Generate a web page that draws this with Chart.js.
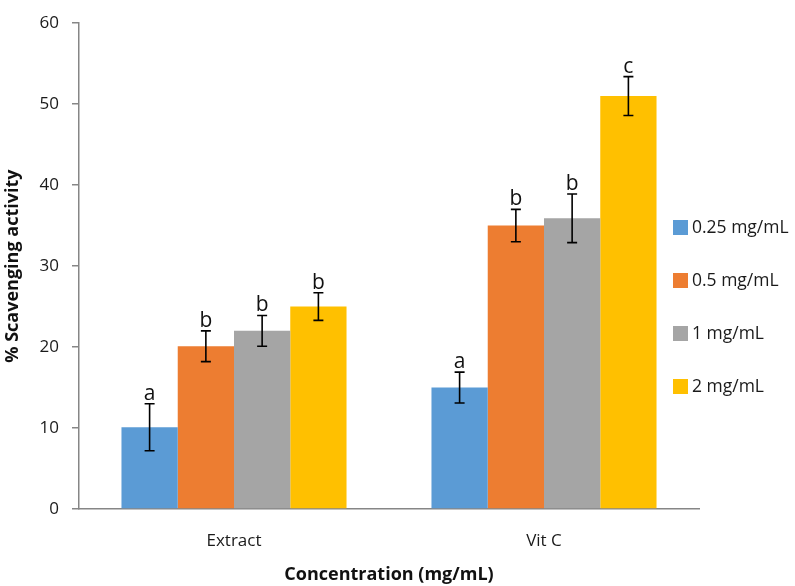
<!DOCTYPE html>
<html>
<head>
<meta charset="utf-8">
<script src="https://cdn.jsdelivr.net/npm/chart.js@4"></script>
<style>
  html, body { margin: 0; padding: 0; background: #fff; }
  #wrap { width: 795px; height: 586px; }
</style>
</head>
<body>
<div id="wrap"><canvas id="scavChart"></canvas></div>
<script>
// data
const categories = ['Extract', 'Vit C'];
const seriesNames = ['0.25 mg/mL', '0.5 mg/mL', '1 mg/mL', '2 mg/mL'];
const seriesColors = ['#5B9BD5', '#ED7D31', '#A5A5A5', '#FFC000'];
const val025 = [10.1, 15.0];
const val05 = [20.1, 35.0];
const val1 = [22.0, 35.9];
const val2 = [25.0, 51.0];
const err025 = [2.9, 1.9];
const err05 = [1.9, 2.0];
const err1 = [1.9, 3.0];
const err2 = [1.7, 2.4];
const let025 = ['a', 'a'];
const let05 = ['b', 'b'];
const let1 = ['b', 'b'];
const let2 = ['b', 'c'];
const yTicks = [0, 10, 20, 30, 40, 50, 60];

const values = [val025, val05, val1, val2];
const errors = [err025, err05, err1, err2];
const letters = [let025, let05, let1, let2];

const FONT = "'Open Sans', 'Liberation Sans', sans-serif";

// error bars + significance letters
const errorBars = {
  id: 'errorBars',
  afterDatasetsDraw(chart) {
    const { ctx, scales: { y } } = chart;
    ctx.save();
    chart.data.datasets.forEach((ds, i) => {
      const meta = chart.getDatasetMeta(i);
      meta.data.forEach((bar, j) => {
        const v = ds.data[j];
        const e = errors[i][j];
        const yTop = y.getPixelForValue(v + e);
        const yBot = y.getPixelForValue(v - e);
        const x = bar.x;
        ctx.strokeStyle = '#000';
        ctx.lineWidth = 1.6;
        ctx.beginPath();
        ctx.moveTo(x, yTop); ctx.lineTo(x, yBot);
        ctx.moveTo(x - 5, yTop); ctx.lineTo(x + 5, yTop);
        ctx.moveTo(x - 5, yBot); ctx.lineTo(x + 5, yBot);
        ctx.stroke();
        ctx.fillStyle = '#111';
        ctx.font = '21px ' + FONT;
        ctx.textAlign = 'center';
        ctx.textBaseline = 'alphabetic';
        ctx.fillText(letters[i][j], x, yTop - 4);
      });
    });
    ctx.restore();
  }
};

// legend sits over the right part of the plot, like the Excel original
const sideLegend = {
  id: 'sideLegend',
  afterDraw(chart) {
    const { ctx } = chart;
    ctx.save();
    ctx.font = '17.5px ' + FONT;
    ctx.textBaseline = 'middle';
    ctx.textAlign = 'left';
    chart.data.datasets.forEach((ds, i) => {
      const cy = 227 + i * 53;
      ctx.fillStyle = ds.backgroundColor;
      ctx.fillRect(673, cy - 7, 15, 15);
      ctx.fillStyle = '#1a1a1a';
      ctx.fillText(ds.label, 692, cy + 1);
    });
    ctx.restore();
  }
};

new Chart(document.getElementById('scavChart'), {
  type: 'bar',
  data: {
    labels: categories,
    datasets: seriesNames.map((name, i) => ({
      label: name,
      data: values[i],
      backgroundColor: seriesColors[i],
      borderWidth: 0
    }))
  },
  options: {
    responsive: true,
    maintainAspectRatio: false,
    animation: false,
    layout: { padding: { top: 12, right: 96, bottom: 0, left: 0 } },
    datasets: { bar: { categoryPercentage: 0.726, barPercentage: 1 } },
    plugins: { legend: { display: false }, tooltip: { enabled: false } },
    scales: {
      x: {
        grid: { display: false, drawTicks: false },
        border: { display: true, color: '#868686', width: 1.5 },
        ticks: { color: '#1a1a1a', padding: 22, font: { family: FONT, size: 17 } },
        title: {
          display: true, text: 'Concentration (mg/mL)', color: '#111',
          font: { family: FONT, size: 18, weight: 'bold' }, padding: { top: 12, bottom: 0 }
        },
        afterFit(scale) { scale.height = 77; }
      },
      y: {
        min: 0, max: 60,
        afterBuildTicks(scale) { scale.ticks = yTicks.map(v => ({ value: v })); },
        grid: { display: true, drawOnChartArea: false, drawTicks: true, tickLength: 7, color: '#868686', lineWidth: 1.5 },
        border: { display: true, color: '#868686', width: 1.5 },
        ticks: { color: '#1a1a1a', padding: 13, font: { family: FONT, size: 17 } },
        title: {
          display: true, text: '% Scavenging activity', color: '#111',
          font: { family: FONT, size: 18, weight: 'bold' }, padding: { top: 2, bottom: 2 }
        },
        afterFit(scale) { scale.width = 79; }
      }
    }
  },
  plugins: [errorBars, sideLegend]
});
</script>
</body>
</html>
